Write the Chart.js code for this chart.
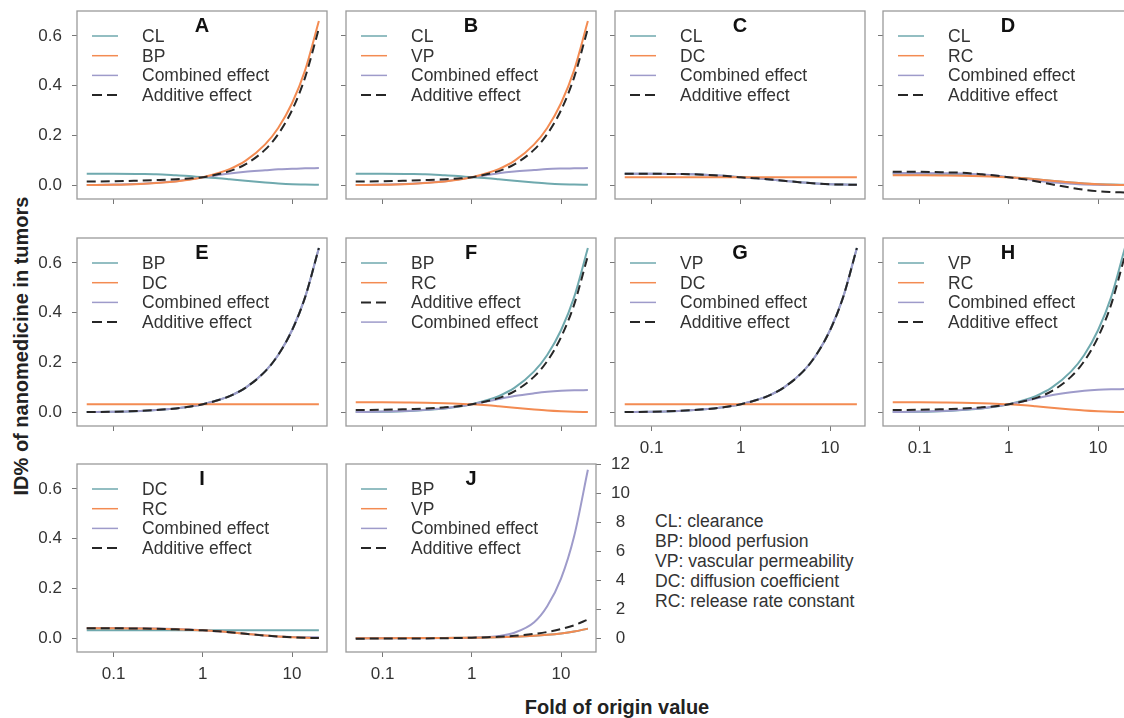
<!DOCTYPE html>
<html><head><meta charset="utf-8">
<script src="https://cdn.jsdelivr.net/npm/chart.js@4.4.1/dist/chart.umd.min.js"></script>
<style>
html,body{margin:0;padding:0;background:#fff;}
body{width:1124px;height:718px;position:relative;overflow:hidden;font-family:"Liberation Sans",Arial,sans-serif;}
canvas{position:absolute;}
.ytitle{position:absolute;left:21px;top:346px;transform:translate(-50%,-50%) rotate(-90deg);font-weight:bold;font-size:20px;color:#222;white-space:nowrap;}
.xtitle{position:absolute;left:617px;top:707px;transform:translate(-50%,-50%);font-weight:bold;font-size:20px;color:#222;white-space:nowrap;}
.defs{position:absolute;left:655px;top:511px;font-size:17.6px;line-height:20px;color:#333;white-space:nowrap;}
</style></head><body>
<div class="ytitle">ID% of nanomedicine in tumors</div>
<div class="xtitle">Fold of origin value</div>
<div class="defs" id="defs"></div>
<script>
// ---------- data ----------
const foldValues   = [0.05, 0.1, 0.2, 0.3, 0.5, 0.7, 1, 1.5, 2, 3, 5, 7, 10, 14, 20];
const xTickValues  = [0.1, 1, 10];
const xTickLabels  = ['0.1', '1', '10'];
const yTickValues  = [0, 0.2, 0.4, 0.6];
const yTickLabels  = ['0.0', '0.2', '0.4', '0.6'];
const jTickValues  = [0, 2, 4, 6, 8, 10, 12];
const jTickLabels  = ['0', '2', '4', '6', '8', '10', '12'];
const abbreviations = ['CL: clearance', 'BP: blood perfusion', 'VP: vascular permeability', 'DC: diffusion coefficient', 'RC: release rate constant'];

const clValues = [0.047, 0.047, 0.046, 0.045, 0.041, 0.038, 0.033, 0.029, 0.025, 0.019, 0.012, 0.008, 0.005, 0.004, 0.003];
const bpValues = [0.0017, 0.0033, 0.0066, 0.0099, 0.0165, 0.023, 0.033, 0.050, 0.066, 0.099, 0.165, 0.231, 0.330, 0.462, 0.660];
const vpValues = [0.0017, 0.0033, 0.0066, 0.0099, 0.0165, 0.023, 0.033, 0.050, 0.066, 0.099, 0.165, 0.231, 0.330, 0.462, 0.660];
const dcValues = [0.033, 0.033, 0.033, 0.033, 0.033, 0.033, 0.033, 0.033, 0.033, 0.033, 0.033, 0.033, 0.033, 0.033, 0.033];
const rcValues = [0.041, 0.041, 0.040, 0.039, 0.037, 0.035, 0.033, 0.029, 0.025, 0.019, 0.012, 0.008, 0.005, 0.003, 0.002];

const combinedA = [0.002, 0.004, 0.007, 0.011, 0.017, 0.024, 0.033, 0.042, 0.048, 0.055, 0.061, 0.065, 0.067, 0.069, 0.070];
const additiveA = [0.016, 0.017, 0.020, 0.022, 0.025, 0.028, 0.033, 0.046, 0.058, 0.085, 0.144, 0.206, 0.302, 0.433, 0.630];
const combinedB = [0.002, 0.004, 0.007, 0.011, 0.017, 0.024, 0.033, 0.042, 0.049, 0.056, 0.062, 0.066, 0.068, 0.069, 0.070];
const additiveB = [0.016, 0.017, 0.020, 0.022, 0.025, 0.028, 0.033, 0.046, 0.058, 0.085, 0.144, 0.206, 0.302, 0.433, 0.630];
const combinedC = [0.047, 0.047, 0.046, 0.045, 0.041, 0.038, 0.033, 0.029, 0.025, 0.019, 0.012, 0.008, 0.005, 0.004, 0.003];
const additiveC = [0.047, 0.047, 0.046, 0.045, 0.041, 0.038, 0.033, 0.029, 0.025, 0.019, 0.012, 0.008, 0.005, 0.004, 0.003];
const combinedD = [0.050, 0.050, 0.049, 0.048, 0.044, 0.040, 0.033, 0.027, 0.021, 0.013, 0.007, 0.004, 0.003, 0.002, 0.002];
const additiveD = [0.055, 0.055, 0.053, 0.051, 0.045, 0.040, 0.033, 0.025, 0.017, 0.005, -0.009, -0.017, -0.023, -0.026, -0.028];
const combinedE = [0.0017, 0.0033, 0.0066, 0.0099, 0.0165, 0.023, 0.033, 0.050, 0.066, 0.099, 0.165, 0.231, 0.330, 0.462, 0.660];
const additiveE = [0.0017, 0.0033, 0.0066, 0.0099, 0.0165, 0.023, 0.033, 0.050, 0.066, 0.099, 0.165, 0.231, 0.330, 0.462, 0.660];
const combinedF = [0.002, 0.004, 0.007, 0.011, 0.017, 0.024, 0.033, 0.045, 0.054, 0.066, 0.077, 0.083, 0.087, 0.089, 0.090];
const additiveF = [0.010, 0.011, 0.014, 0.016, 0.021, 0.025, 0.033, 0.046, 0.058, 0.085, 0.144, 0.206, 0.302, 0.432, 0.629];
const combinedG = [0.0017, 0.0033, 0.0066, 0.0099, 0.0165, 0.023, 0.033, 0.050, 0.066, 0.099, 0.165, 0.231, 0.330, 0.462, 0.660];
const additiveG = [0.0017, 0.0033, 0.0066, 0.0099, 0.0165, 0.023, 0.033, 0.050, 0.066, 0.099, 0.165, 0.231, 0.330, 0.462, 0.660];
const combinedH = [0.002, 0.004, 0.007, 0.011, 0.017, 0.024, 0.033, 0.046, 0.056, 0.069, 0.081, 0.087, 0.091, 0.093, 0.094];
const additiveH = [0.010, 0.011, 0.014, 0.016, 0.021, 0.025, 0.033, 0.046, 0.058, 0.085, 0.144, 0.206, 0.302, 0.432, 0.629];
const combinedI = [0.042, 0.042, 0.041, 0.040, 0.038, 0.036, 0.033, 0.029, 0.025, 0.019, 0.012, 0.008, 0.006, 0.005, 0.005];
const additiveI = [0.041, 0.041, 0.040, 0.039, 0.037, 0.035, 0.033, 0.029, 0.025, 0.019, 0.012, 0.008, 0.005, 0.003, 0.002];
const combinedJ = [0.0001, 0.0003, 0.001, 0.003, 0.008, 0.016, 0.033, 0.08, 0.15, 0.38, 1.1, 2.2, 4.1, 7.0, 11.6];
const additiveJ = [-0.030, -0.026, -0.020, -0.013, 0.000, 0.013, 0.033, 0.067, 0.099, 0.165, 0.297, 0.429, 0.627, 0.891, 1.287];

// ---------- styles / layout ----------
const STYLE = {
  teal:   {color: '#6fa9ae', width: 2, dash: [], order: 3},
  orange: {color: '#f38b52', width: 2, dash: [], order: 1},
  purple: {color: '#9e9bca', width: 2, dash: [], order: 2},
  dash:   {color: '#262626', width: 2, dash: [9, 5], order: 0}
};
const COL_X = [77, 346, 615, 883];
const ROW_Y = [11, 238, 464];
const BOX_W = 250, BOX_H = 188;
const PAD_L = 75, PAD_T = 11, PAD_R = 45, PAD_B = 40;
const FONT = '"Liberation Sans", Arial, sans-serif';

const panels = [
  {letter: 'A', col: 0, row: 0, yLab: true,  xLab: false, series: [['CL', clValues, 'teal'], ['BP', bpValues, 'orange'], ['Combined effect', combinedA, 'purple'], ['Additive effect', additiveA, 'dash']]},
  {letter: 'B', col: 1, row: 0, yLab: false, xLab: false, series: [['CL', clValues, 'teal'], ['VP', vpValues, 'orange'], ['Combined effect', combinedB, 'purple'], ['Additive effect', additiveB, 'dash']]},
  {letter: 'C', col: 2, row: 0, yLab: false, xLab: false, series: [['CL', clValues, 'teal'], ['DC', dcValues, 'orange'], ['Combined effect', combinedC, 'purple'], ['Additive effect', additiveC, 'dash']]},
  {letter: 'D', col: 3, row: 0, yLab: false, xLab: false, series: [['CL', clValues, 'teal'], ['RC', rcValues, 'orange'], ['Combined effect', combinedD, 'purple'], ['Additive effect', additiveD, 'dash']]},
  {letter: 'E', col: 0, row: 1, yLab: true,  xLab: false, series: [['BP', bpValues, 'teal'], ['DC', dcValues, 'orange'], ['Combined effect', combinedE, 'purple'], ['Additive effect', additiveE, 'dash']]},
  {letter: 'F', col: 1, row: 1, yLab: false, xLab: false, series: [['BP', bpValues, 'teal'], ['RC', rcValues, 'orange'], ['Additive effect', additiveF, 'dash'], ['Combined effect', combinedF, 'purple']]},
  {letter: 'G', col: 2, row: 1, yLab: false, xLab: true,  series: [['VP', vpValues, 'teal'], ['DC', dcValues, 'orange'], ['Combined effect', combinedG, 'purple'], ['Additive effect', additiveG, 'dash']]},
  {letter: 'H', col: 3, row: 1, yLab: false, xLab: true,  series: [['VP', vpValues, 'teal'], ['RC', rcValues, 'orange'], ['Combined effect', combinedH, 'purple'], ['Additive effect', additiveH, 'dash']]},
  {letter: 'I', col: 0, row: 2, yLab: true,  xLab: true,  series: [['DC', dcValues, 'teal'], ['RC', rcValues, 'orange'], ['Combined effect', combinedI, 'purple'], ['Additive effect', additiveI, 'dash']]},
  {letter: 'J', col: 1, row: 2, yLab: false, xLab: true,  right: true, series: [['BP', bpValues, 'teal'], ['VP', vpValues, 'orange'], ['Combined effect', combinedJ, 'purple'], ['Additive effect', additiveJ, 'dash']]}
];

document.getElementById('defs').innerHTML = abbreviations.map(t => '<div>' + t + '</div>').join('');

const panelDecor = {
  id: 'panelDecor',
  beforeDatasetsDraw(chart) {
    const {ctx, chartArea: a} = chart;
    ctx.save();
    ctx.strokeStyle = '#9a9a9a';
    ctx.lineWidth = 1.3;
    ctx.strokeRect(a.left, a.top, a.right - a.left, a.bottom - a.top);
    ctx.restore();
  },
  afterDatasetsDraw(chart, args, opts) {
    const {ctx, chartArea: a} = chart;
    ctx.save();
    ctx.fillStyle = '#111';
    ctx.font = 'bold 20px ' + FONT;
    ctx.textAlign = 'center';
    ctx.textBaseline = 'middle';
    ctx.fillText(opts.letter, (a.left + a.right) / 2, a.top + 15);
    ctx.font = '17.5px ' + FONT;
    ctx.textAlign = 'left';
    chart.data.datasets.forEach((ds, i) => {
      const y = a.top + 25 + i * 19.7;
      ctx.strokeStyle = ds.borderColor;
      ctx.lineWidth = ds.borderDash.length ? 2 : 1.5;
      ctx.setLineDash(ds.borderDash.length ? [10, 5] : []);
      ctx.beginPath();
      ctx.moveTo(a.left + 15, y);
      ctx.lineTo(a.left + 41, y);
      ctx.stroke();
      ctx.setLineDash([]);
      ctx.fillStyle = '#333';
      ctx.fillText(ds.label, a.left + 65, y + 1);
    });
    ctx.restore();
  }
};

const noPad = s => { s.paddingTop = 0; s.paddingBottom = 0; s.paddingLeft = 0; s.paddingRight = 0; };

panels.forEach(p => {
  const cv = document.createElement('canvas');
  const W = PAD_L + BOX_W + PAD_R, H = PAD_T + BOX_H + PAD_B;
  cv.width = W; cv.height = H;
  cv.style.width = W + 'px'; cv.style.height = H + 'px';
  cv.style.left = (COL_X[p.col] - PAD_L) + 'px';
  cv.style.top = (ROW_Y[p.row] - PAD_T) + 'px';
  document.body.appendChild(cv);

  const yId = p.right ? 'yR' : 'y';
  const datasets = p.series.map(([label, vals, key]) => {
    const s = STYLE[key];
    return {
      label,
      data: foldValues.map((x, i) => ({x, y: vals[i]})),
      borderColor: s.color,
      backgroundColor: s.color,
      borderWidth: s.width,
      borderDash: s.dash,
      order: s.order,
      pointRadius: 0,
      fill: false,
      cubicInterpolationMode: 'monotone',
      yAxisID: yId
    };
  });

  const tickGrid = {display: true, drawOnChartArea: false, drawTicks: true, tickLength: 5, color: '#777', lineWidth: 1};
  const scales = {
    x: {
      type: 'logarithmic', min: 0.0389, max: 24.66,
      grid: tickGrid, border: {display: false},
      afterBuildTicks: s => { s.ticks = xTickValues.map(v => ({value: v})); },
      afterFit: s => { s.height = PAD_B; noPad(s); },
      ticks: {display: p.xLab, autoSkip: false, maxRotation: 0, padding: 7, color: '#333',
              font: {size: 17, family: FONT}, callback: (v, i) => xTickLabels[i]}
    }
  };
  if (p.right) {
    scales.yR = {
      type: 'linear', position: 'right', min: -0.95, max: 12,
      grid: tickGrid, border: {display: false},
      afterBuildTicks: s => { s.ticks = jTickValues.map(v => ({value: v})); },
      afterFit: s => { s.width = PAD_R; noPad(s); },
      ticks: {display: true, autoSkip: false, padding: 10, crossAlign: 'center', color: '#333',
              font: {size: 17, family: FONT}, callback: (v, i) => jTickLabels[i]}
    };
  } else {
    scales.y = {
      type: 'linear', position: 'left', min: -0.054, max: 0.70,
      grid: tickGrid, border: {display: false},
      afterBuildTicks: s => { s.ticks = yTickValues.map(v => ({value: v})); },
      afterFit: s => { s.width = PAD_L; noPad(s); },
      ticks: {display: p.yLab, autoSkip: false, padding: 10, color: '#333',
              font: {size: 17, family: FONT}, callback: (v, i) => yTickLabels[i]}
    };
  }

  new Chart(cv, {
    type: 'line',
    data: {datasets},
    options: {
      responsive: false, animation: false, devicePixelRatio: 1,
      layout: {padding: {left: p.right ? PAD_L : 0, top: PAD_T, right: p.right ? 0 : PAD_R, bottom: 0}},
      plugins: {legend: {display: false}, tooltip: {enabled: false}, panelDecor: {letter: p.letter}},
      scales
    },
    plugins: [panelDecor]
  });
});
</script>
</body></html>
